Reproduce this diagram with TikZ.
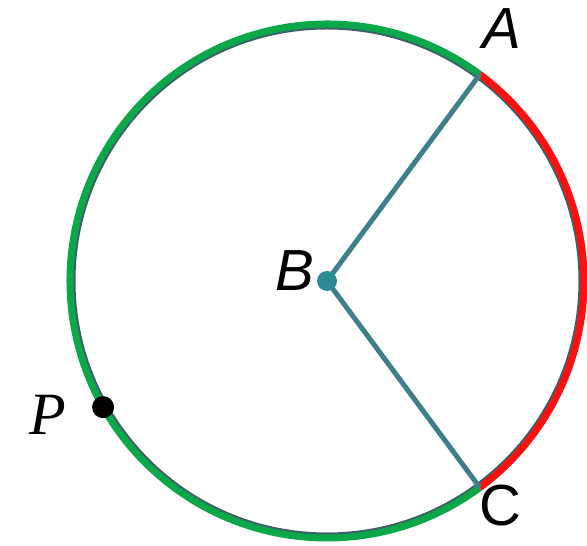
\documentclass[tikz,border=0pt]{standalone}
\usepackage{fontspec}
\setmainfont{Liberation Sans}
\usetikzlibrary{calc}
\definecolor{arcgreen}{HTML}{0BA84A}
\definecolor{arcred}{HTML}{FF1010}
\definecolor{radteal}{HTML}{3F7F8C}
\definecolor{dotteal}{HTML}{2B8C98}
\definecolor{rimgray}{HTML}{3E5F6A}
\begin{document}
\begin{tikzpicture}[x=1pt,y=1pt,
  lbl/.style={inner sep=0pt,font=\fontsize{58}{60}\selectfont},
  radius line/.style={draw=radteal,line width=5pt},
  rim/.style={draw=rimgray,line width=3pt},
  majorarc/.style={draw=arcgreen,line width=7pt},
  minorarc/.style={draw=arcred,line width=7pt}]
\useasboundingbox (0,0) rectangle (587,546);
\coordinate (B) at (327,265);
\coordinate (A) at ($(B)+(53.5:257pt)$);
\coordinate (C) at ($(B)+(-53.5:257pt)$);
\coordinate (P) at ($(B)+(209.4:257pt)$);
\draw[rim] (B) circle[radius=253pt];
\draw[majorarc] (A) arc[start angle=53.5,end angle=306.5,radius=257pt];
\draw[minorarc] (A) arc[start angle=53.5,end angle=-53.5,radius=257pt];
\draw[radius line] (B) -- (A);
\draw[radius line] (B) -- (C);
\fill[dotteal] (B) circle[radius=10pt];
\fill[black] (P) circle[radius=11pt];
\node[lbl] (lA) at (502,517) {\itshape A};
\node[lbl] (lB) at (295,275) {\itshape B};
\node[lbl] (lC) at (500,40) {C};
\node[lbl,font=\fontsize{60}{62}\selectfont\rmfamily] (lP) at (48,131) {\fontspec{Liberation Serif}\itshape P};
\end{tikzpicture}
\end{document}
